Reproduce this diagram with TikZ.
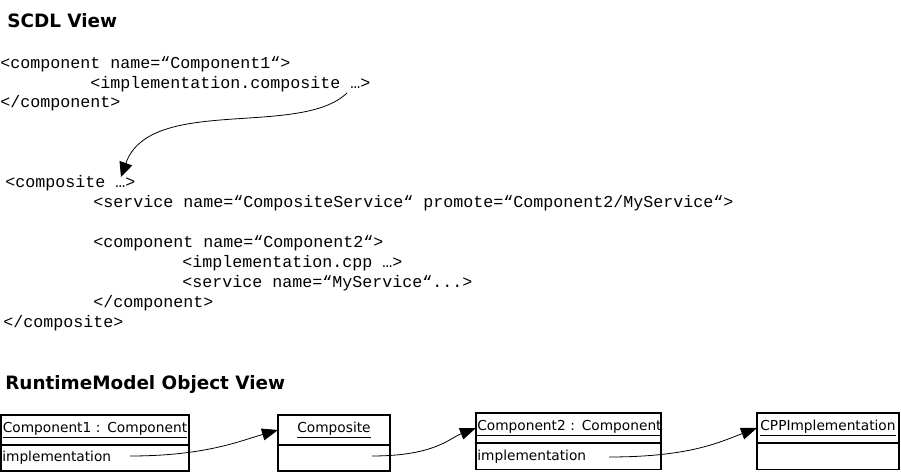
\documentclass[tikz,border=0pt]{standalone}
\usepackage{fontspec}
\setmonofont{Liberation Mono}
\newfontfamily\titrefont{DejaVu Sans}
\usetikzlibrary{arrows.meta,positioning}

\begin{document}
\begin{tikzpicture}[x=0.75pt,y=-0.75pt,
	titre/.style={anchor=base west,inner sep=0pt,font=\titrefont\bfseries\fontsize{13.8}{16}\selectfont},
	code/.style={anchor=base west,inner sep=0pt,font=\ttfamily\fontsize{12.5}{15}\selectfont},
	entete/.style={draw,line width=1.1pt,outer sep=0pt,inner xsep=1pt,inner ysep=0pt,text width=#1,minimum height=22.5pt,align=center,font=\titrefont\fontsize{10.3}{12}\selectfont},
	corps/.style={entete=#1,minimum height=19.5pt,align=left},
	lien/.style={line width=0.6pt,-{Triangle[length=12pt,width=9pt]}}]
	%
	% Cadre
	\useasboundingbox (0,0) rectangle (901,473);
	%
	% Titres
	\node[titre] (scdl) at (7,28) {SCDL View};
	\node[titre] (runtime) at (5,390) {RuntimeModel Object View};
	%
	% Texte SCDL
	\node[code] (comp1open) at (0,69) {<component name=“Component1“>};
	\node[code] (comp1impl) at (90,89) {<implementation.composite …>};
	\node[code] (comp1close) at (0,108) {</component>};
	\node[code] (compopen) at (5,188) {<composite …>};
	\node[code] (compservice) at (93,208) {<service name=“CompositeService“ promote=“Component2/MyService“>};
	\node[code] (comp2open) at (93,248) {<component name=“Component2“>};
	\node[code] (comp2impl) at (182,268) {<implementation.cpp …>};
	\node[code] (comp2service) at (182,288) {<service name=“MyService“...>};
	\node[code] (comp2close) at (93,308) {</component>};
	\node[code] (compclose) at (3,328) {</composite>};
	\coordinate (depart) at (347,93);
	\coordinate (arrivee) at (121,177);
	\draw[lien,-{Triangle[length=11pt,width=10pt]}] (depart) .. controls (300,138) and (150,95) .. (arrivee);
	%
	% Objets
	\node[entete=139pt,anchor=north west] (comp1) at (1,415) {\underline{Component1 : Component}};
	\node[corps=139pt,below=0pt of comp1] (comp1attr) {implementation};
	\node[entete=82pt,anchor=north west] (compo) at (278,415) {\underline{Composite}};
	\node[corps=82pt,below=0pt of compo] (compoattr) {};
	\node[entete=136.75pt,anchor=north west] (comp2) at (476,413) {\underline{Component2 : Component}};
	\node[corps=136.75pt,below=0pt of comp2,minimum height=20pt] (comp2attr) {implementation};
	\node[entete=104.5pt,anchor=north west] (cppimpl) at (757,413) {\underline{CPPImplementation}};
	\node[corps=104.5pt,below=0pt of cppimpl,minimum height=20pt] (cppimplattr) {};
	%
	% Liens
	\coordinate (lien1) at (130,456);
	\coordinate (lien2) at (372,456);
	\coordinate (lien3) at (609,457);
	\draw[lien] (lien1) .. controls (205,456) and (240,441) .. (compo.west);
	\draw[lien] (lien2) .. controls (435,456) and (450,438) .. (comp2.west);
	\draw[lien] (lien3) .. controls (690,457) and (720,442) .. (cppimpl.west);
\end{tikzpicture}
\end{document}
